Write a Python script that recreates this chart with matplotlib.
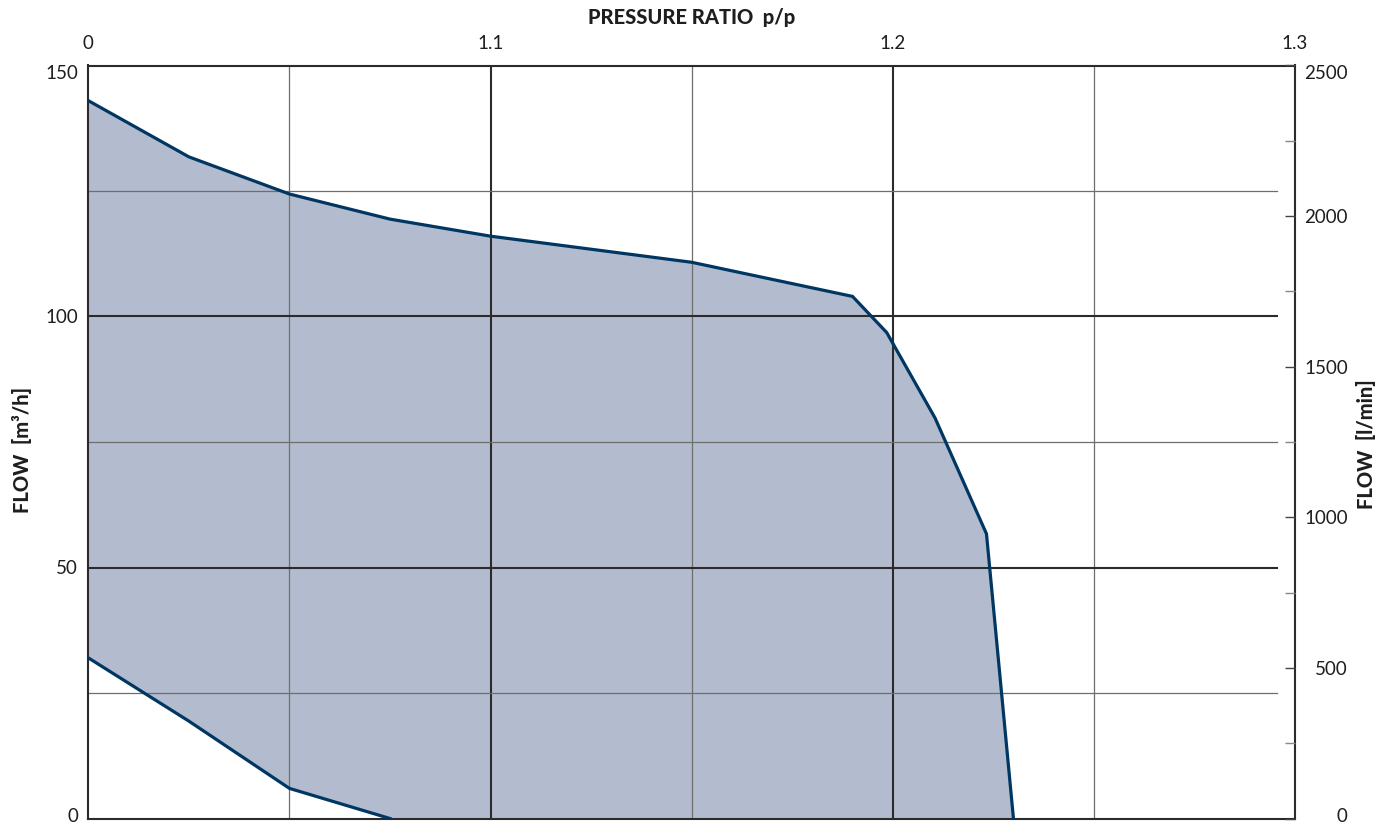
import matplotlib
matplotlib.use("Agg")
import matplotlib.pyplot as plt
import matplotlib.transforms as mtrans
import numpy as np

plt.rcParams['font.family'] = ['Lato', 'DejaVu Sans']

# ---- data ----
upper_x = [1.0, 1.025, 1.05, 1.075, 1.1, 1.15, 1.19, 1.1985, 1.2105, 1.2233, 1.230]
upper_y = [143.0, 131.8, 124.4, 119.4, 116.0, 110.8, 104.0, 96.8, 79.8, 56.7, 0.0]
lower_x = [1.0, 1.025, 1.05, 1.075]
lower_y = [32.0, 19.4, 6.0, 0.0]

x_ticks = [1.0, 1.1, 1.2, 1.3]
x_ticklabels = ["0", "1.1", "1.2", "1.3"]
x_grid_major = [1.1, 1.2]
x_grid_minor = [1.05, 1.15, 1.25]
y_ticks = [0, 50, 100, 150]
y_grid_major = [50, 100]
y_grid_minor = [25, 75, 125]
r_ticks = [0, 500, 1000, 1500, 2000, 2500]
r_minor = [250, 750, 1250, 1750, 2250]

title = "PRESSURE RATIO  p/p"
left_label = "FLOW  [m³/h]"
right_label = "FLOW  [l/min]"

W, H = 1396, 825
fig = plt.figure(figsize=(W / 100, H / 100), dpi=100)
L, R, T, B = 88.3, 1295.0, 65.5, 818.5
ax = fig.add_axes([L / W, 1 - B / H, (R - L) / W, (B - T) / H])
ax.set_xlim(1.0, 1.3)
ax.set_ylim(0, 150)

line_col = "#003662"
fill_col = "#b3bccf"
txt_col = "#1e1e1e"

# filled region
poly_x = list(upper_x) + [lower_x[-1]] + list(lower_x[::-1])
poly_y = list(upper_y) + [0.0] + list(lower_y[::-1])
ax.fill(poly_x, poly_y, color=fill_col, lw=0, zorder=1)

# grid
for xv in x_grid_minor:
    ax.axvline(xv, color="#6e6e6e", lw=0.9, zorder=2)
for xv in x_grid_major:
    ax.axvline(xv, color="#2b2b2b", lw=1.5, zorder=2)
for yv in y_grid_minor:
    ax.axhline(yv, xmax=0.985, color="#6e6e6e", lw=0.9, zorder=2)
for yv in y_grid_major:
    ax.axhline(yv, xmax=0.985, color="#2b2b2b", lw=1.5, zorder=2)

# curves
ax.plot(upper_x, upper_y, color=line_col, lw=2.3, zorder=3, solid_joinstyle='miter')
ax.plot(lower_x, lower_y, color=line_col, lw=2.3, zorder=3, solid_joinstyle='miter')

for s in ax.spines.values():
    s.set_color("#2b2b2b")
    s.set_linewidth(1.5)

ax.xaxis.tick_top()
ax.set_xticks(x_ticks)
ax.set_xticklabels(x_ticklabels)
ax.tick_params(axis='x', length=0, pad=10, labelsize=13.5, colors=txt_col)
ax.set_yticks(y_ticks)
ax.tick_params(axis='y', length=0, pad=7.5, labelsize=13.5, colors=txt_col)

ax2 = ax.twinx()
ax2.set_ylim(0, 2500)
ax2.set_yticks(r_ticks)
ax2.set_yticks(r_minor, minor=True)
ax2.tick_params(axis='y', which='major', direction='in', length=7, width=1.0,
                color="#444444", pad=38, labelsize=13.5, labelcolor=txt_col)
ax2.tick_params(axis='y', which='minor', direction='in', length=7, width=1.0,
                color="#888888")
for s in ax2.spines.values():
    s.set_visible(False)

fig.canvas.draw()
up = mtrans.ScaledTranslation(0, 4 / 100, fig.dpi_scale_trans)
down = mtrans.ScaledTranslation(0, -7 / 100, fig.dpi_scale_trans)
for lbl in ax2.get_yticklabels():
    lbl.set_horizontalalignment('right')
yl = ax.get_yticklabels()
rl = ax2.get_yticklabels()
for lbl in (yl[0], rl[0]):
    lbl.set_transform(lbl.get_transform() + up)
for lbl in (yl[-1], rl[-1]):
    lbl.set_transform(lbl.get_transform() + down)

ax.text(0.5, 1.064, title, transform=ax.transAxes, ha='center', va='center',
        fontsize=14.5, fontweight='black', color=txt_col)
ax.text(-0.055, 0.49, left_label, transform=ax.transAxes, ha='center', va='center',
        rotation=90, fontsize=14.5, fontweight='black', color=txt_col)
ax.text(1.0586, 0.497, right_label, transform=ax.transAxes, ha='center', va='center',
        rotation=90, fontsize=14.5, fontweight='black', color=txt_col)

fig.savefig("out.png", dpi=100)
